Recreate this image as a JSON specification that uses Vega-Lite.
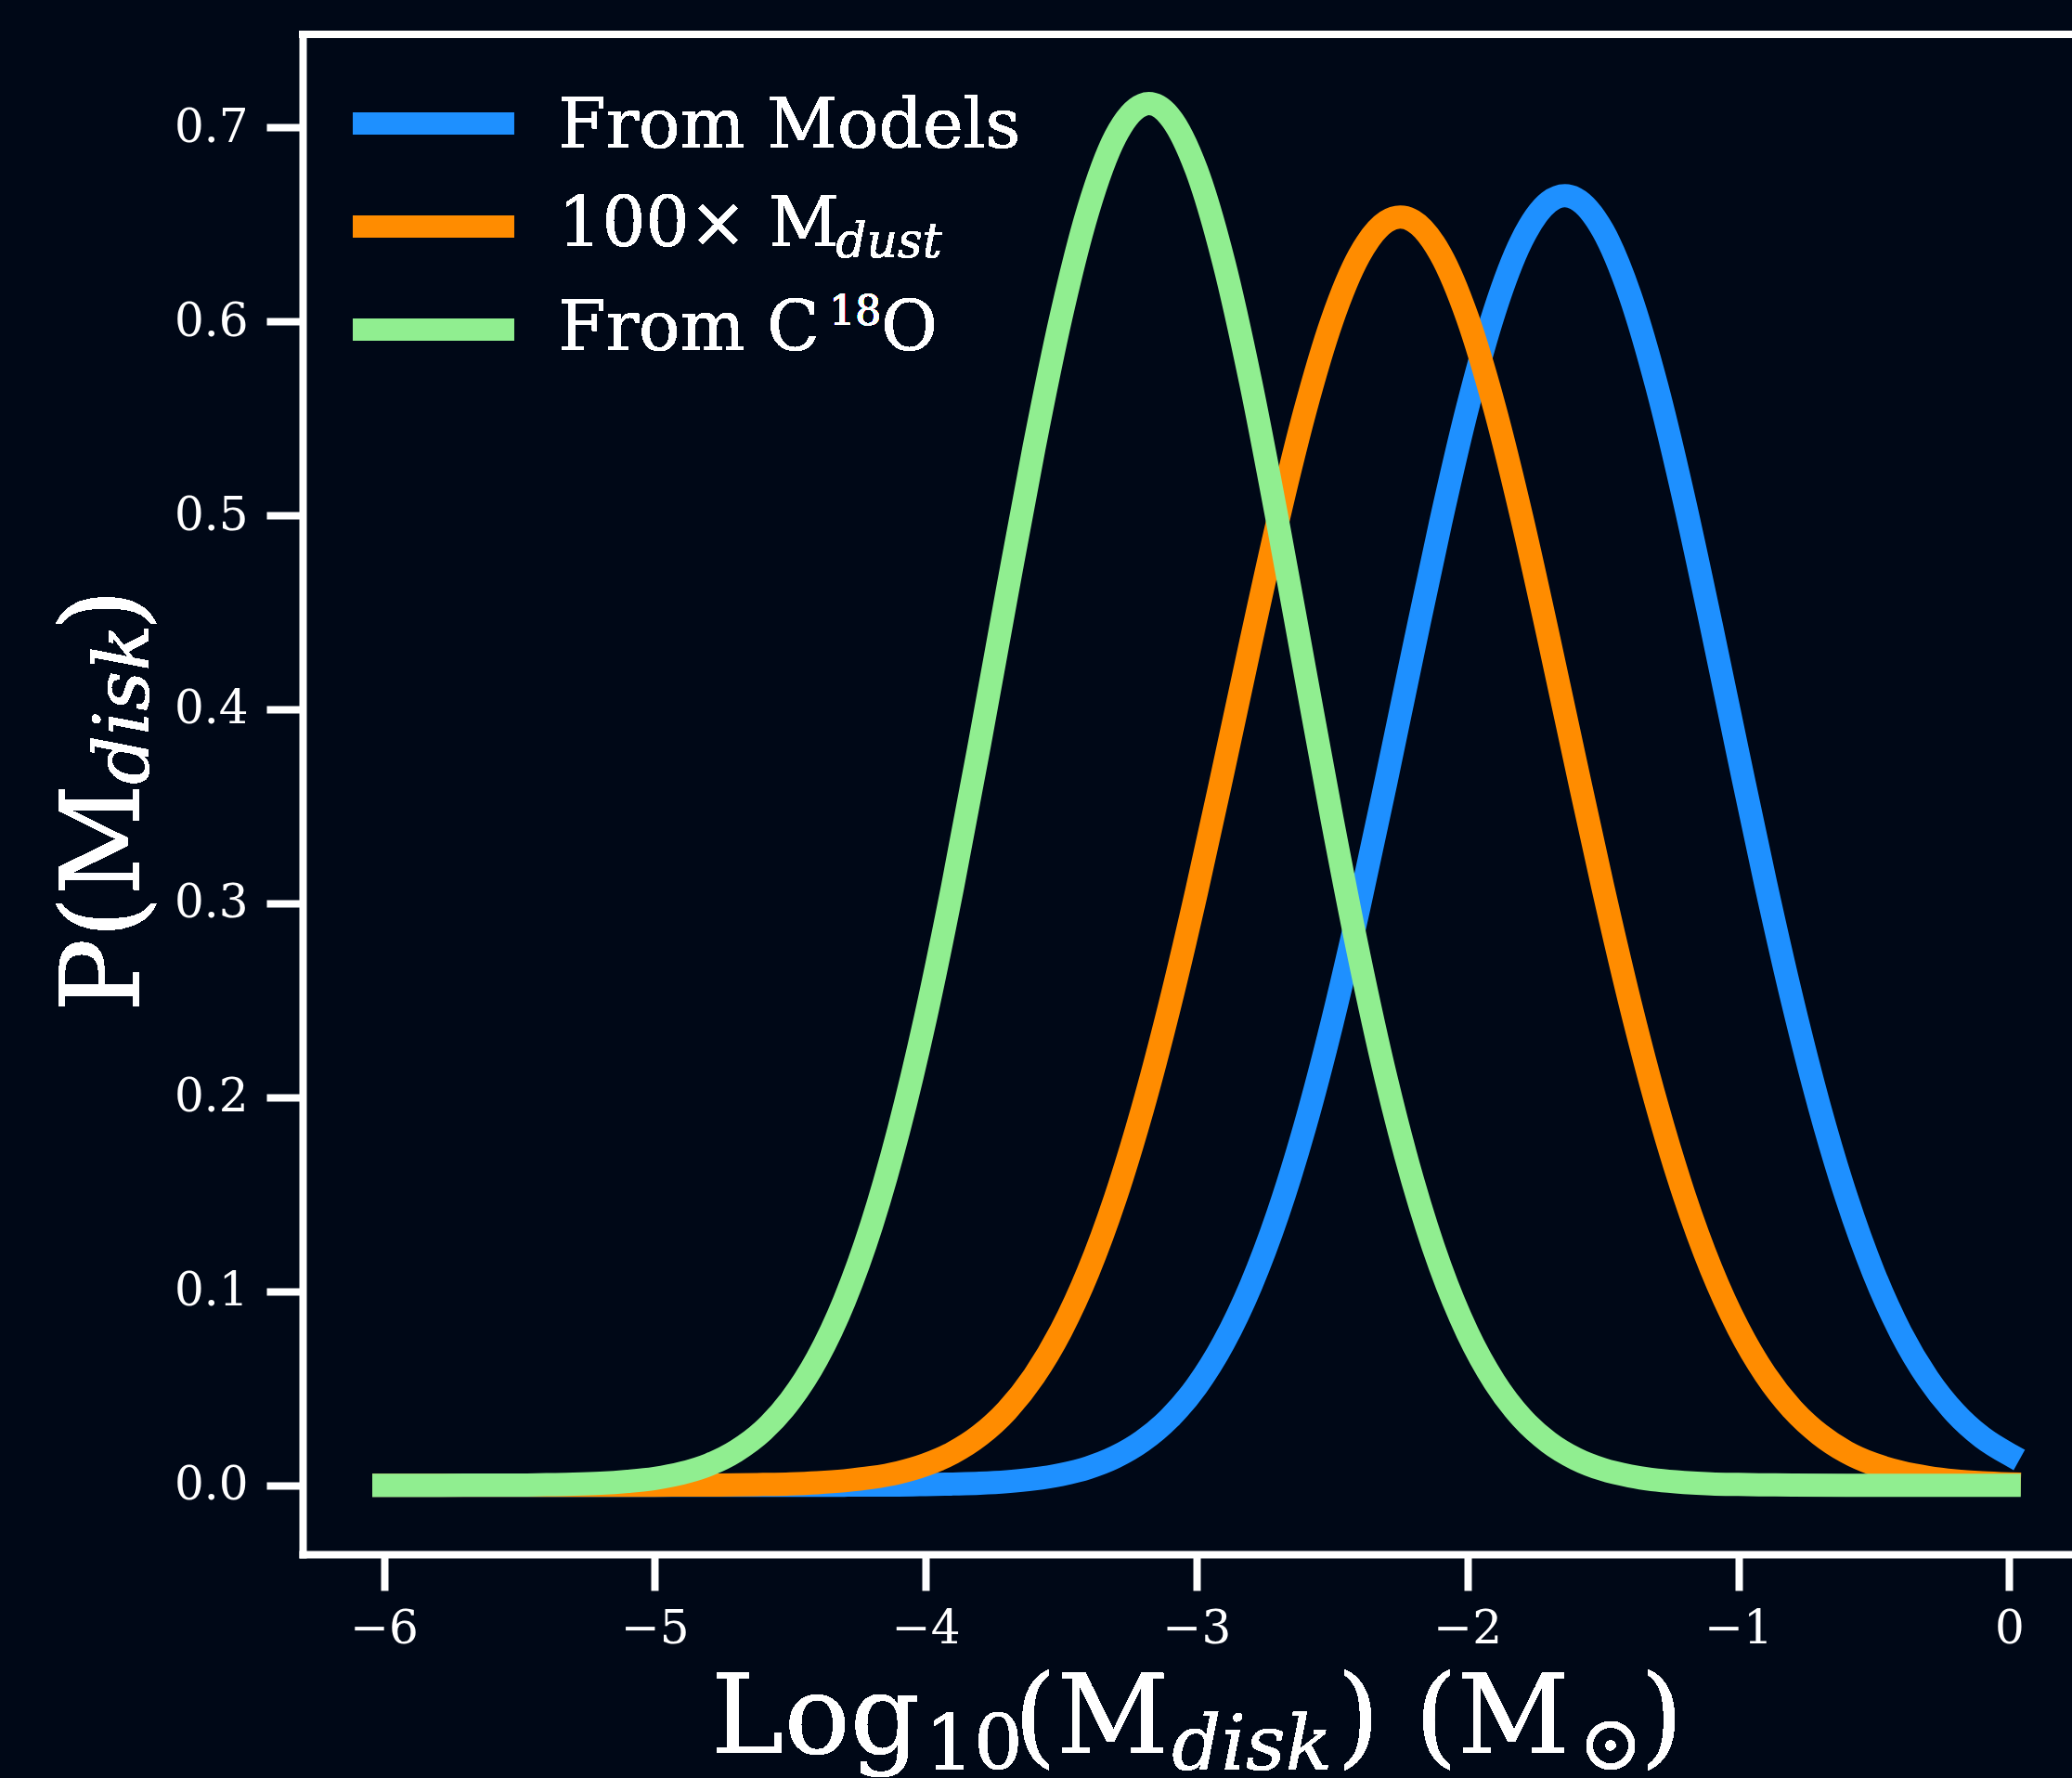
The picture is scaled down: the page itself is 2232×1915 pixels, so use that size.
{
  "$schema": "https://vega.github.io/schema/vega-lite/v6.json",
  "width": 1906,
  "height": 1637,
  "autosize": {"type": "none"},
  "padding": {"left": 326, "top": 37, "right": 0, "bottom": 241},
  "background": "#000817",
  "config": {
    "view": {"stroke": null, "fill": "#000817"},
    "font": "DejaVu Serif",
    "axis": {
      "domainColor": "white", "domainWidth": 8, "domainCap": "square",
      "tickColor": "white", "tickWidth": 8, "tickSize": 39,
      "labelColor": "white", "labelFont": "DejaVu Serif", "labelFontSize": 50,
      "grid": false, "labelFlush": false, "labelOverlap": false
    },
    "axisX": {"labelPadding": 16},
    "axisY": {"labelPadding": 20},
    "text": {"font": "DejaVu Serif", "color": "white", "align": "left", "baseline": "alphabetic"}
  },
  "data": {"values": [
    {"series":"From Models","x":-6.0,"p":0},{"series":"From Models","x":-5.5,"p":0},{"series":"From Models","x":-5.0,"p":0},{"series":"From Models","x":-4.8,"p":0},{"series":"From Models","x":-4.6,"p":0},
    {"series":"From Models","x":-4.5,"p":0},{"series":"From Models","x":-4.4,"p":0},{"series":"From Models","x":-4.3,"p":0},{"series":"From Models","x":-4.2,"p":0.0001},{"series":"From Models","x":-4.1,"p":0.0001},
    {"series":"From Models","x":-4.0,"p":0.0003},{"series":"From Models","x":-3.9,"p":0.0006},{"series":"From Models","x":-3.8,"p":0.001},{"series":"From Models","x":-3.7,"p":0.0018},{"series":"From Models","x":-3.6,"p":0.0032},
    {"series":"From Models","x":-3.5,"p":0.0055},{"series":"From Models","x":-3.4,"p":0.009},{"series":"From Models","x":-3.3,"p":0.0145},{"series":"From Models","x":-3.2,"p":0.0227},{"series":"From Models","x":-3.1,"p":0.0345},
    {"series":"From Models","x":-3.0,"p":0.051},{"series":"From Models","x":-2.9,"p":0.0734},{"series":"From Models","x":-2.8,"p":0.1027},{"series":"From Models","x":-2.7,"p":0.1397},{"series":"From Models","x":-2.6,"p":0.1849},
    {"series":"From Models","x":-2.5,"p":0.2381},{"series":"From Models","x":-2.4,"p":0.2981},{"series":"From Models","x":-2.3,"p":0.3631},{"series":"From Models","x":-2.2,"p":0.4301},{"series":"From Models","x":-2.1,"p":0.4956},
    {"series":"From Models","x":-2.0,"p":0.5553},{"series":"From Models","x":-1.9,"p":0.6052},{"series":"From Models","x":-1.8,"p":0.6416},{"series":"From Models","x":-1.7,"p":0.6615},{"series":"From Models","x":-1.64,"p":0.6648},
    {"series":"From Models","x":-1.6,"p":0.6633},{"series":"From Models","x":-1.5,"p":0.6469},{"series":"From Models","x":-1.4,"p":0.6137},{"series":"From Models","x":-1.3,"p":0.5662},{"series":"From Models","x":-1.2,"p":0.5081},
    {"series":"From Models","x":-1.1,"p":0.4435},{"series":"From Models","x":-1.0,"p":0.3765},{"series":"From Models","x":-0.9,"p":0.3108},{"series":"From Models","x":-0.8,"p":0.2496},{"series":"From Models","x":-0.7,"p":0.1949},
    {"series":"From Models","x":-0.6,"p":0.1481},{"series":"From Models","x":-0.5,"p":0.1094},{"series":"From Models","x":-0.4,"p":0.0786},{"series":"From Models","x":-0.3,"p":0.055},{"series":"From Models","x":-0.2,"p":0.0374},
    {"series":"From Models","x":-0.1,"p":0.0247},{"series":"From Models","x":0.0,"p":0.0159},

    {"series":"100× M_dust","x":-6.0,"p":0},{"series":"100× M_dust","x":-5.5,"p":0},{"series":"100× M_dust","x":-5.0,"p":0},{"series":"100× M_dust","x":-4.9,"p":0.0001},{"series":"100× M_dust","x":-4.8,"p":0.0001},
    {"series":"100× M_dust","x":-4.7,"p":0.0002},{"series":"100× M_dust","x":-4.6,"p":0.0004},{"series":"100× M_dust","x":-4.5,"p":0.0007},{"series":"100× M_dust","x":-4.4,"p":0.0013},{"series":"100× M_dust","x":-4.3,"p":0.0023},
    {"series":"100× M_dust","x":-4.2,"p":0.0039},{"series":"100× M_dust","x":-4.1,"p":0.0065},{"series":"100× M_dust","x":-4.0,"p":0.0106},{"series":"100× M_dust","x":-3.9,"p":0.0167},{"series":"100× M_dust","x":-3.8,"p":0.0257},
    {"series":"100× M_dust","x":-3.7,"p":0.0385},{"series":"100× M_dust","x":-3.6,"p":0.0562},{"series":"100× M_dust","x":-3.5,"p":0.0797},{"series":"100× M_dust","x":-3.4,"p":0.11},{"series":"100× M_dust","x":-3.3,"p":0.1479},
    {"series":"100× M_dust","x":-3.2,"p":0.1936},{"series":"100× M_dust","x":-3.1,"p":0.2467},{"series":"100× M_dust","x":-3.0,"p":0.3059},{"series":"100× M_dust","x":-2.9,"p":0.3694},{"series":"100× M_dust","x":-2.8,"p":0.4343},
    {"series":"100× M_dust","x":-2.7,"p":0.497},{"series":"100× M_dust","x":-2.6,"p":0.5536},{"series":"100× M_dust","x":-2.5,"p":0.6004},{"series":"100× M_dust","x":-2.4,"p":0.6338},{"series":"100× M_dust","x":-2.3,"p":0.6514},
    {"series":"100× M_dust","x":-2.248,"p":0.6538},{"series":"100× M_dust","x":-2.2,"p":0.6518},{"series":"100× M_dust","x":-2.1,"p":0.6349},{"series":"100× M_dust","x":-2.0,"p":0.602},{"series":"100× M_dust","x":-1.9,"p":0.5557},
    {"series":"100× M_dust","x":-1.8,"p":0.4994},{"series":"100× M_dust","x":-1.7,"p":0.4368},{"series":"100× M_dust","x":-1.6,"p":0.372},{"series":"100× M_dust","x":-1.5,"p":0.3084},{"series":"100× M_dust","x":-1.4,"p":0.2489},
    {"series":"100× M_dust","x":-1.3,"p":0.1956},{"series":"100× M_dust","x":-1.2,"p":0.1496},{"series":"100× M_dust","x":-1.1,"p":0.1114},{"series":"100× M_dust","x":-1.0,"p":0.0808},{"series":"100× M_dust","x":-0.9,"p":0.057},
    {"series":"100× M_dust","x":-0.8,"p":0.0391},{"series":"100× M_dust","x":-0.7,"p":0.0262},{"series":"100× M_dust","x":-0.6,"p":0.017},{"series":"100× M_dust","x":-0.5,"p":0.0108},{"series":"100× M_dust","x":-0.4,"p":0.0067},
    {"series":"100× M_dust","x":-0.3,"p":0.004},{"series":"100× M_dust","x":-0.2,"p":0.0023},{"series":"100× M_dust","x":-0.1,"p":0.0013},{"series":"100× M_dust","x":0.0,"p":0.0007},

    {"series":"From C18O","x":-6.0,"p":0},{"series":"From C18O","x":-5.8,"p":0},{"series":"From C18O","x":-5.6,"p":0.0001},{"series":"From C18O","x":-5.5,"p":0.0001},{"series":"From C18O","x":-5.4,"p":0.0003},
    {"series":"From C18O","x":-5.3,"p":0.0005},{"series":"From C18O","x":-5.2,"p":0.001},{"series":"From C18O","x":-5.1,"p":0.002},{"series":"From C18O","x":-5.0,"p":0.0035},{"series":"From C18O","x":-4.9,"p":0.0062},
    {"series":"From C18O","x":-4.8,"p":0.0106},{"series":"From C18O","x":-4.7,"p":0.0176},{"series":"From C18O","x":-4.6,"p":0.0281},{"series":"From C18O","x":-4.5,"p":0.0436},{"series":"From C18O","x":-4.4,"p":0.0654},
    {"series":"From C18O","x":-4.3,"p":0.0951},{"series":"From C18O","x":-4.2,"p":0.1339},{"series":"From C18O","x":-4.1,"p":0.1827},{"series":"From C18O","x":-4.0,"p":0.2413},{"series":"From C18O","x":-3.9,"p":0.3089},
    {"series":"From C18O","x":-3.8,"p":0.3829},{"series":"From C18O","x":-3.7,"p":0.4598},{"series":"From C18O","x":-3.6,"p":0.5348},{"series":"From C18O","x":-3.5,"p":0.6025},{"series":"From C18O","x":-3.4,"p":0.6575},
    {"series":"From C18O","x":-3.3,"p":0.6951},{"series":"From C18O","x":-3.2,"p":0.7116},{"series":"From C18O","x":-3.176,"p":0.7123},{"series":"From C18O","x":-3.1,"p":0.7058},{"series":"From C18O","x":-3.0,"p":0.678},
    {"series":"From C18O","x":-2.9,"p":0.6309},{"series":"From C18O","x":-2.8,"p":0.5686},{"series":"From C18O","x":-2.7,"p":0.4964},{"series":"From C18O","x":-2.6,"p":0.4198},{"series":"From C18O","x":-2.5,"p":0.3438},
    {"series":"From C18O","x":-2.4,"p":0.2728},{"series":"From C18O","x":-2.3,"p":0.2096},{"series":"From C18O","x":-2.2,"p":0.1561},{"series":"From C18O","x":-2.1,"p":0.1125},{"series":"From C18O","x":-2.0,"p":0.0786},
    {"series":"From C18O","x":-1.9,"p":0.0532},{"series":"From C18O","x":-1.8,"p":0.0348},{"series":"From C18O","x":-1.7,"p":0.0221},{"series":"From C18O","x":-1.6,"p":0.0136},{"series":"From C18O","x":-1.5,"p":0.0081},
    {"series":"From C18O","x":-1.4,"p":0.0047},{"series":"From C18O","x":-1.3,"p":0.0026},{"series":"From C18O","x":-1.2,"p":0.0014},{"series":"From C18O","x":-1.1,"p":0.0007},{"series":"From C18O","x":-1.0,"p":0.0004},
    {"series":"From C18O","x":-0.9,"p":0.0002},{"series":"From C18O","x":-0.8,"p":0.0001},{"series":"From C18O","x":-0.6,"p":0},{"series":"From C18O","x":-0.4,"p":0},{"series":"From C18O","x":-0.2,"p":0},
    {"series":"From C18O","x":0.0,"p":0}
  ]},
  "layer": [
    {
      "mark": {"type": "line", "strokeWidth": 25, "strokeCap": "square", "strokeJoin": "round", "interpolate": "monotone"},
      "encoding": {
        "x": {"field": "x", "type": "quantitative",
              "scale": {"domain": [-6.3, 0.232], "nice": false, "zero": false},
              "axis": {"values": [-6, -5, -4, -3, -2, -1, 0], "format": "d", "title": null}},
        "y": {"field": "p", "type": "quantitative",
              "scale": {"domain": [-0.0356, 0.748], "nice": false, "zero": false},
              "axis": {"values": [0, 0.1, 0.2, 0.3, 0.4, 0.5, 0.6, 0.7], "format": ".1f", "title": null}},
        "color": {"field": "series", "type": "nominal",
                  "scale": {"domain": ["From Models", "100× M_dust", "From C18O"], "range": ["#1E90FF", "#FF8C00", "#90EE90"]},
                  "legend": null}
      }
    },
    {"mark": {"type": "rule", "color": "white", "strokeWidth": 8, "strokeCap": "square"}, "encoding": {"y": {"datum": 0.748}}},

    {"mark": {"type": "rule", "color": "#1E90FF", "strokeWidth": 24, "strokeCap": "butt"}, "encoding": {"x": {"datum": -6.1138}, "x2": {"datum": -5.5209}, "y": {"datum": 0.702}}},
    {"mark": {"type": "rule", "color": "#FF8C00", "strokeWidth": 24, "strokeCap": "butt"}, "encoding": {"x": {"datum": -6.1138}, "x2": {"datum": -5.5209}, "y": {"datum": 0.6489}}},
    {"mark": {"type": "rule", "color": "#90EE90", "strokeWidth": 24, "strokeCap": "butt"}, "encoding": {"x": {"datum": -6.1138}, "x2": {"datum": -5.5209}, "y": {"datum": 0.5958}}},

    {"mark": {"type": "text", "text": "From Models", "fontSize": 74}, "encoding": {"x": {"datum": -5.3564}, "y": {"datum": 0.6896}}},
    {"mark": {"type": "text", "text": "100× M", "fontSize": 74}, "encoding": {"x": {"datum": -5.3564}, "y": {"datum": 0.6388}}},
    {"mark": {"type": "text", "text": "dust", "fontSize": 52, "fontStyle": "italic"}, "encoding": {"x": {"datum": -4.3318}, "y": {"datum": 0.6331}}},
    {"mark": {"type": "text", "text": "From C", "fontSize": 74}, "encoding": {"x": {"datum": -5.3564}, "y": {"datum": 0.5852}}},
    {"mark": {"type": "text", "text": "18", "fontSize": 44}, "encoding": {"x": {"datum": -4.3557}, "y": {"datum": 0.5981}}},
    {"mark": {"type": "text", "text": "O", "fontSize": 74}, "encoding": {"x": {"datum": -4.1638}, "y": {"datum": 0.5852}}},

    {"mark": {"type": "text", "text": "Log", "fontSize": 118}, "encoding": {"x": {"datum": -4.791}, "y": {"datum": -0.138}}},
    {"mark": {"type": "text", "text": "10", "fontSize": 83}, "encoding": {"x": {"datum": -4.003}, "y": {"datum": -0.1467}}},
    {"mark": {"type": "text", "text": "(M", "fontSize": 118}, "encoding": {"x": {"datum": -3.674}, "y": {"datum": -0.138}}},
    {"mark": {"type": "text", "text": "disk", "fontSize": 83, "fontStyle": "italic"}, "encoding": {"x": {"datum": -3.091}, "y": {"datum": -0.1467}}},
    {"mark": {"type": "text", "text": ") (M", "fontSize": 118}, "encoding": {"x": {"datum": -2.481}, "y": {"datum": -0.138}}},
    {"mark": {"type": "text", "text": "⊙", "fontSize": 83}, "encoding": {"x": {"datum": -1.59}, "y": {"datum": -0.1467}}},
    {"mark": {"type": "text", "text": ")", "fontSize": 118}, "encoding": {"x": {"datum": -1.361}, "y": {"datum": -0.138}}},

    {"mark": {"type": "text", "text": "P(M", "fontSize": 118, "angle": 270}, "encoding": {"x": {"datum": -6.902}, "y": {"datum": 0.2439}}},
    {"mark": {"type": "text", "text": "disk", "fontSize": 83, "fontStyle": "italic", "angle": 270}, "encoding": {"x": {"datum": -6.868}, "y": {"datum": 0.3612}}},
    {"mark": {"type": "text", "text": ")", "fontSize": 118, "angle": 270}, "encoding": {"x": {"datum": -6.902}, "y": {"datum": 0.4401}}}
  ]
}
